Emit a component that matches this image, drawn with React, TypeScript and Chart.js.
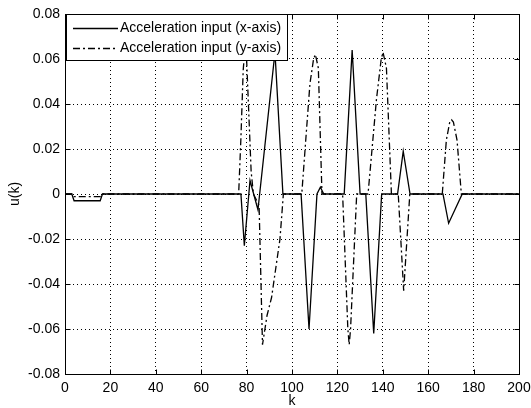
import React, { useEffect, useRef } from "react";
import { Chart, registerables } from "chart.js";

Chart.register(...registerables);

// Series 1: acceleration input (x-axis) — breakpoints (k, u)
const kX = [0, 3, 4, 15.5, 16.5, 77.5, 79, 81.5, 85, 92.5, 96, 104, 107.5, 111, 112.5, 114, 123, 126.5, 130, 132.5, 136, 139.5, 146.5, 149, 152, 166.5, 169, 175, 200];
const uX = [0, 0, -0.003, -0.003, 0, 0, -0.023, 0.006, -0.007, 0.063, 0, 0, -0.06, 0, 0.003, 0, 0, 0.064, 0, 0, -0.062, 0, 0, 0.019, 0, 0, -0.013, 0, 0];

// Series 2: acceleration input (y-axis)
const kY = [0, 3, 4, 15.5, 16.5, 76.5, 77.5, 78.5, 79.2, 80, 81, 82, 83, 85.5, 87, 89, 91, 94.7, 96.2, 104.3, 107.9, 109.5, 110.3, 111.6, 113.2, 122.3, 124.6, 125.2, 125.8, 128.5, 133.5, 137.2, 139.3, 140.1, 141.6, 143.8, 146.8, 149.2, 151.9, 166.2, 168, 169.5, 170.3, 171.1, 172.7, 174.6, 200];
const uY = [0, 0, -0.0012, -0.0012, 0, 0, 0.025, 0.055, 0.064, 0.06, 0.035, 0.01, 0, -0.005, -0.067, -0.054, -0.046, -0.02, 0, 0, 0.049, 0.06, 0.062, 0.056, 0, 0, -0.06, -0.067, -0.06, 0, 0, 0.042, 0.06, 0.063, 0.056, 0, 0, -0.043, 0, 0, 0.024, 0.032, 0.033, 0.032, 0.024, 0, 0];

const seriesNames = ["Acceleration input (x-axis)", "Acceleration input (y-axis)"];
const xTicks = [0, 20, 40, 60, 80, 100, 120, 140, 160, 180, 200];
const yTicks = [-0.08, -0.06, -0.04, -0.02, 0, 0.02, 0.04, 0.06, 0.08];

const FONT = '"Liberation Sans", Arial, Helvetica, sans-serif';
const DASH = [7, 3, 2, 3];

export default function App() {
  const ref = useRef<HTMLCanvasElement>(null);

  useEffect(() => {
    const canvas = ref.current;
    if (!canvas) return;
    const toPts = (ks: number[], us: number[]) => ks.map((k, i) => ({ x: k, y: us[i] }));

    const framePlugin = {
      id: "matlabFrame",
      afterDraw(chart: any) {
        const { ctx, chartArea: a, scales } = chart;
        const L = Math.round(a.left) + 0.5;
        const R = Math.round(a.right) + 0.5;
        const T = Math.round(a.top) + 0.5;
        const B = Math.round(a.bottom) + 0.5;
        ctx.save();
        ctx.setLineDash([]);
        ctx.strokeStyle = "#000";
        ctx.lineWidth = 1;
        ctx.strokeRect(L, T, R - L, B - T);
        const tl = 5;
        ctx.beginPath();
        for (const v of xTicks) {
          const px = Math.round(scales.x.getPixelForValue(v)) + 0.5;
          ctx.moveTo(px, B); ctx.lineTo(px, B - tl);
          ctx.moveTo(px, T); ctx.lineTo(px, T + tl);
        }
        for (const v of yTicks) {
          const py = Math.round(scales.y.getPixelForValue(v)) + 0.5;
          ctx.moveTo(L, py); ctx.lineTo(L + tl, py);
          ctx.moveTo(R, py); ctx.lineTo(R - tl, py);
        }
        ctx.stroke();

        // legend box
        const lx = L + 1, ly = T, lw = 221, lh = 46;
        ctx.fillStyle = "#fff";
        ctx.fillRect(lx, ly, lw, lh);
        ctx.strokeRect(lx, ly, lw, lh);
        const rows = [28.5, 48.5];
        ctx.lineWidth = 1.3;
        rows.forEach((y, i) => {
          ctx.beginPath();
          ctx.setLineDash(i === 0 ? [] : DASH);
          ctx.moveTo(73, y);
          ctx.lineTo(118, y);
          ctx.stroke();
        });
        ctx.setLineDash([]);
        ctx.fillStyle = "#000";
        ctx.font = `14px ${FONT}`;
        ctx.textBaseline = "middle";
        ctx.textAlign = "left";
        rows.forEach((y, i) => ctx.fillText(seriesNames[i], 120, y));
        ctx.restore();
      },
    };

    const chart = new Chart(canvas, {
      type: "line",
      data: {
        datasets: [
          {
            label: seriesNames[0],
            data: toPts(kX, uX),
            borderColor: "#000",
            borderWidth: 1.3,
            pointRadius: 0,
            tension: 0,
            fill: false,
          },
          {
            label: seriesNames[1],
            data: toPts(kY, uY),
            borderColor: "#000",
            borderWidth: 1.3,
            borderDash: DASH,
            pointRadius: 0,
            tension: 0,
            fill: false,
          },
        ],
      },
      options: {
        responsive: false,
        animation: false,
        layout: { padding: { left: 0, right: 12, top: 14, bottom: 0 } },
        plugins: { legend: { display: false }, tooltip: { enabled: false } },
        scales: {
          x: {
            type: "linear",
            min: 0,
            max: 200,
            afterBuildTicks: (s: any) => { s.ticks = xTicks.map((v) => ({ value: v })); },
            afterFit: (s: any) => { s.height = 34; s.paddingLeft = 0; s.paddingRight = 0; },
            grid: { color: "#000", lineWidth: 1, drawTicks: false },
            border: { display: false, dash: [1, 3] },
            ticks: { padding: 6, color: "#000", font: { size: 14, family: FONT }, maxRotation: 0, autoSkip: false },
            title: { display: true, text: "k", color: "#000", font: { size: 14, family: FONT }, padding: { top: 0, bottom: -2 } },
          },
          y: {
            type: "linear",
            min: -0.08,
            max: 0.08,
            afterBuildTicks: (s: any) => { s.ticks = yTicks.map((v) => ({ value: v })); },
            afterFit: (s: any) => { s.width = 65; s.paddingTop = 0; s.paddingBottom = 0; },
            grid: { color: "#000", lineWidth: 1, drawTicks: false },
            border: { display: false, dash: [1, 3] },
            ticks: {
              padding: 5,
              color: "#000",
              font: { size: 14, family: FONT },
              autoSkip: false,
              callback: (v: any) => (Math.abs(Number(v)) < 1e-9 ? "0" : Number(v).toFixed(2)),
            },
            title: { display: true, text: "u(k)", color: "#000", font: { size: 14, family: FONT }, padding: { top: 7, bottom: 0 } },
          },
        },
      },
      plugins: [framePlugin],
    });
    return () => chart.destroy();
  }, []);

  return (
    <div style={{ position: "absolute", left: 0, top: 0, width: 531, height: 408, background: "#fff" }}>
      <canvas ref={ref} width={531} height={408} />
    </div>
  );
}
